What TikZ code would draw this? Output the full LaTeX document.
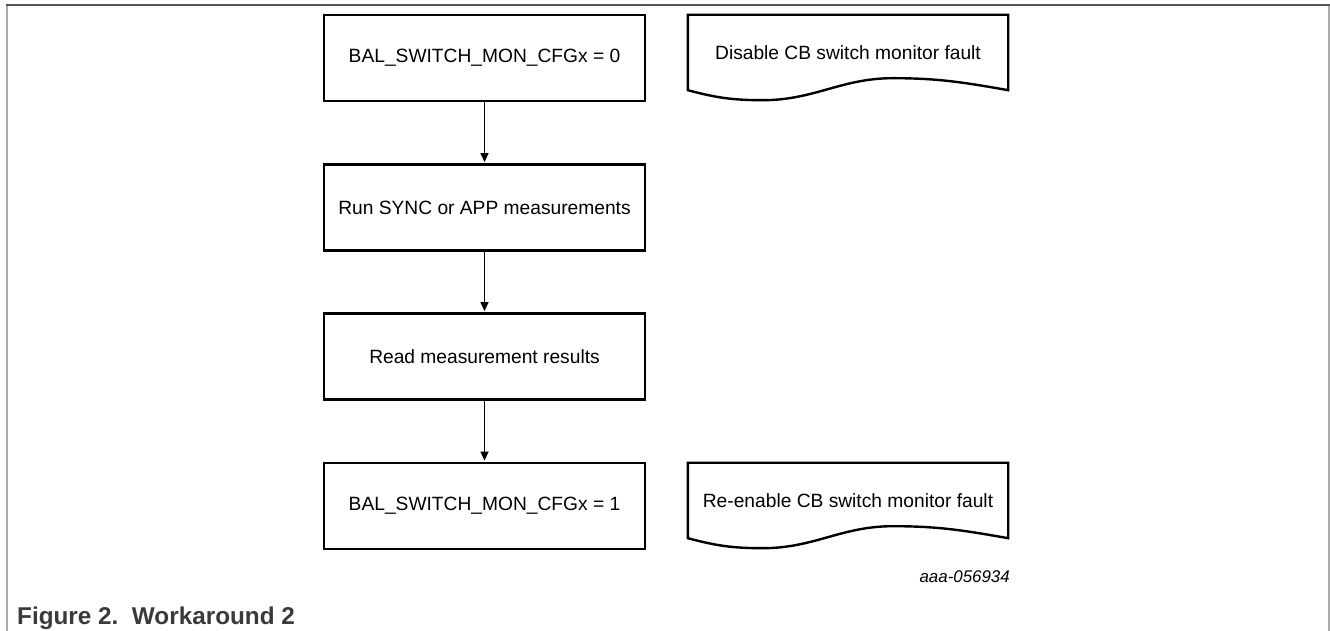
\documentclass[tikz,border=0pt]{standalone}
\usepackage{fontspec}
\setmainfont{Liberation Sans}
\usetikzlibrary{arrows.meta}
\definecolor{frametop}{HTML}{555555}
\definecolor{frameside}{HTML}{ABABAB}
\definecolor{captiongray}{HTML}{3A3A3A}
\begin{document}
\begin{tikzpicture}[x=1pt,y=1pt,
  procbox/.style={draw, line width=2.4pt, minimum width=321pt, minimum height=86pt,
    inner sep=0pt, font=\fontsize{19.2}{23}\selectfont},
  docbox/.style={minimum width=320pt, minimum height=75pt, inner sep=0pt,
    font=\fontsize{19.2}{23}\selectfont},
  docline/.style={line width=2.4pt, line join=miter},
  flow/.style={line width=1.3pt, -{Triangle[length=9pt,width=8pt]}, shorten >=1.2pt},
  ]
\useasboundingbox (0,0) rectangle (1330,631);
% frame
\draw[frameside, line width=2pt] (7,626) -- (7,0);
\draw[frameside, line width=2pt] (1328.5,626) -- (1328.5,0);
\draw[frametop, line width=1.3pt] (6,626) -- (1329.5,626);

% process boxes
\node[procbox] (b1) at (484.5,573) {BAL\_SWITCH\_MON\_CFGx = 0};
\node[procbox] (b2) at (484.5,423.5) {Run SYNC or APP measurements};
\node[procbox] (b3) at (484.5,274.5) {Read measurement results};
\node[procbox] (b4) at (484.5,125) {BAL\_SWITCH\_MON\_CFGx = 1};

\draw[flow] (b1.south) -- (b2.north);
\draw[flow] (b2.south) -- (b3.north);
\draw[flow] (b3.south) -- (b4.north);

% document shapes
\node[docbox] (d1) at (848,578.5) {Disable CB switch monitor fault};
\draw[docline] (d1.south east) -- (d1.north east) -- (d1.north west) -- (d1.south west)
  to[out=-15,in=180] ++(75,-10) to[out=0,in=180] ++(130,22) to[out=0,in=170] (d1.south east) -- cycle;

\node[docbox] (d2) at (848,130.5) {Re-enable CB switch monitor fault};
\draw[docline] (d2.south east) -- (d2.north east) -- (d2.north west) -- (d2.south west)
  to[out=-15,in=180] ++(75,-10) to[out=0,in=180] ++(130,22) to[out=0,in=170] (d2.south east) -- cycle;

% labels
\node[anchor=base east, inner sep=0pt, font=\fontsize{16.9}{20}\selectfont\itshape] (id) at (1010,48) {aaa-056934};
\node[anchor=base west, inner sep=0pt, text=captiongray, font=\fontsize{24.3}{28}\selectfont\bfseries] (cap) at (17,6) {Figure 2.\ \ Workaround 2};
\end{tikzpicture}
\end{document}
